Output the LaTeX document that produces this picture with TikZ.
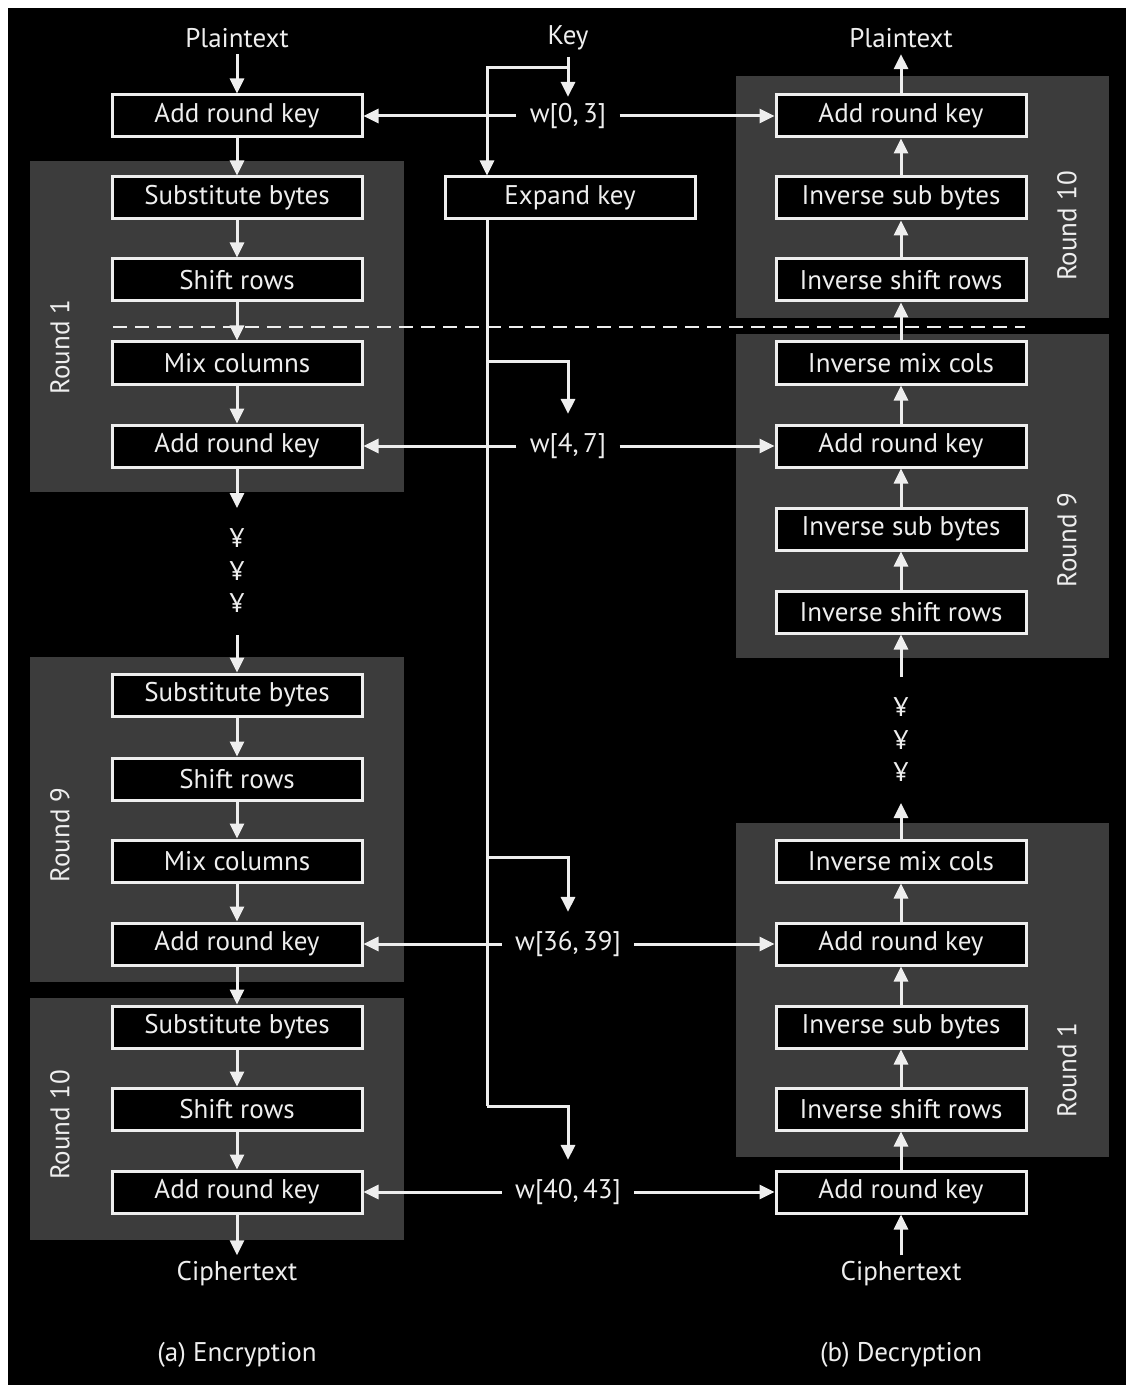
\documentclass[tikz,border=0pt]{standalone}
\usepackage{fontspec}
\setmainfont{PT Sans}
\usetikzlibrary{arrows.meta}
\definecolor{panel}{HTML}{3C3C3C}
\definecolor{ink}{HTML}{EEEEEE}
\newcommand\txt{\fontsize{13.5}{16}\selectfont}
\tikzset{
  stage/.style={draw=ink,line width=1.5pt,fill=black,text=ink,minimum width=125pt,minimum height=21pt,inner sep=0pt,font=\txt},
  lab/.style={text=ink,font=\txt,inner sep=3pt},
  wlab/.style={text=ink,font=\txt,inner xsep=6.5pt,inner ysep=3pt},
  rnd/.style={text=ink,font=\txt,rotate=90},
  arr/.style={draw=ink,line width=1.5pt,-{Triangle[width=7pt,length=7.5pt]}},
  wire/.style={draw=ink,line width=1.5pt},
}
\begin{document}
\begin{tikzpicture}[x=0.5pt,y=-0.5pt]
\useasboundingbox (0,0) rectangle (1126,1385);
\fill[white] (0,0) rectangle (1126,1385);
\fill[black] (8,8) rectangle (1126,1385);
% round panels
\foreach \xa/\ya/\xb/\yb in {30/161/404/492, 30/657/404/982, 30/998/404/1240, 736/76/1109/318, 736/334/1109/658, 736/823/1109/1157}
  {\fill[panel] (\xa,\ya) rectangle (\xb,\yb);}
\draw[ink,line width=0.8pt,dash pattern=on 7pt off 4pt] (113,327)--(1025,327);
% encryption
\foreach \n/\y/\t in {ea0/116/Add round key, es1/198/Substitute bytes, er1/280/Shift rows, em1/363/Mix columns, ea1/446/Add round key, es9/695/Substitute bytes, er9/779/Shift rows, em9/861/Mix columns, ea9/944/Add round key, es10/1027/Substitute bytes, er10/1109/Shift rows, ea10/1192/Add round key}
  {\node[stage] (\n) at (237,\y) {\t};}
% decryption
\foreach \n/\y/\t in {da10/116/Add round key, ds10/198/Inverse sub bytes, dr10/280/Inverse shift rows, dm9/363/Inverse mix cols, da9/446/Add round key, ds9/529/Inverse sub bytes, dr9/612/Inverse shift rows, dm1/861/Inverse mix cols, da1/944/Add round key, ds1/1027/Inverse sub bytes, dr1/1109/Inverse shift rows, da0/1192/Add round key}
  {\node[stage] (\n) at (901,\y) {\t};}
\node[stage] (xk) at (570,198) {Expand key};
\foreach \n/\x/\y/\t in {rl1/60/347/Round 1, rl9/60/835/Round 9, rl10/60/1125/Round 10, rr10/1067/226/Round 10, rr9/1067/540/Round 9, rr1/1067/1070/Round 1}
  {\node[rnd] (\n) at (\x,\y) {\t};}
\node[lab] (pt1) at (237,38) {Plaintext};
\node[lab] (key) at (568,38) {Key};
\node[lab] (pt2) at (901,38) {Plaintext};
\node[lab] (ct1) at (237,1274) {Ciphertext};
\node[lab] (ct2) at (901,1274) {Ciphertext};
\node[lab] (capa) at (237,1355) {(a) Encryption};
\node[lab] (capb) at (901,1355) {(b) Decryption};
\node[wlab] (w0) at (568,116) {w[0,\,3]};
\node[wlab] (w1) at (568,446) {w[4,\,7]};
\node[wlab] (w9) at (568,944) {w[36,\,39]};
\node[wlab] (w10) at (568,1192) {w[40,\,43]};
\foreach \n/\x/\y in {ya/237/538, yb/237/571, yc/237/603, yd/901/707, ye/901/740, yf/901/772}
  {\node[lab] (\n) at (\x,\y) {¥};}
\coordinate (ka) at (568,68);
\coordinate (e1) at (237,508);
\coordinate (e2) at (237,635);
\coordinate (f1) at (901,677);
\coordinate (f2) at (901,803);
\coordinate (b1) at (487,361);
\coordinate (b9) at (487,857);
\coordinate (b10) at (487,1106);
% data path
\foreach \a/\b in {pt1/ea0, ea0/es1, es1/er1, er1/em1, em1/ea1, ea1/e1, e2/es9, es9/er9, er9/em9, em9/ea9, ea9/es10, es10/er10, er10/ea10, ea10/ct1, ct2/da0, da0/dr1, dr1/ds1, ds1/da1, da1/dm1, dm1/f2, f1/dr9, dr9/ds9, ds9/da9, da9/dm9, dm9/dr10, dr10/ds10, ds10/da10, da10/pt2}
  {\draw[arr] (\a)--(\b);}
% key schedule
\draw[arr] (key)--(w0);
\draw[arr] (ka)-|(xk.north-|b1);
\draw[wire] (xk.south-|b1)--(b10);
\foreach \b/\w in {b1/w1, b9/w9, b10/w10}
  {\draw[arr,shorten >=6.5pt] (\b)-|(\w.north);}
\foreach \w/\l/\r in {w0/ea0/da10, w1/ea1/da9, w9/ea9/da1, w10/ea10/da0}
  {\draw[arr] (\w)--(\l); \draw[arr] (\w)--(\r);}
\end{tikzpicture}
\end{document}
